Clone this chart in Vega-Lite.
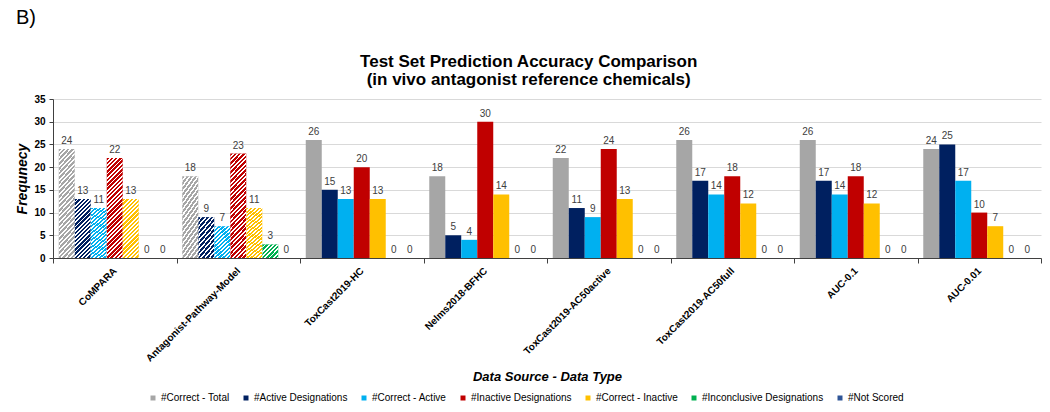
{
"$schema": "https://vega.github.io/schema/vega-lite/v6.json",
"background": "white",
"padding": {"left": 15, "top": 8, "right": 0, "bottom": 0},
"title": {"text": "B)", "anchor": "start", "frame": "bounds", "fontSize": 20, "fontWeight": "normal", "font": "Liberation Sans", "color": "#000000", "offset": 25},
"datasets": {"d": [
{"Source":"CoMPARA","Type":"#Correct - Total","Count":24},
{"Source":"CoMPARA","Type":"#Active Designations","Count":13},
{"Source":"CoMPARA","Type":"#Correct - Active","Count":11},
{"Source":"CoMPARA","Type":"#Inactive Designations","Count":22},
{"Source":"CoMPARA","Type":"#Correct - Inactive","Count":13},
{"Source":"CoMPARA","Type":"#Inconclusive Designations","Count":0},
{"Source":"CoMPARA","Type":"#Not Scored","Count":0},
{"Source":"Antagonist-Pathway-Model","Type":"#Correct - Total","Count":18},
{"Source":"Antagonist-Pathway-Model","Type":"#Active Designations","Count":9},
{"Source":"Antagonist-Pathway-Model","Type":"#Correct - Active","Count":7},
{"Source":"Antagonist-Pathway-Model","Type":"#Inactive Designations","Count":23},
{"Source":"Antagonist-Pathway-Model","Type":"#Correct - Inactive","Count":11},
{"Source":"Antagonist-Pathway-Model","Type":"#Inconclusive Designations","Count":3},
{"Source":"Antagonist-Pathway-Model","Type":"#Not Scored","Count":0},
{"Source":"ToxCast2019-HC","Type":"#Correct - Total","Count":26},
{"Source":"ToxCast2019-HC","Type":"#Active Designations","Count":15},
{"Source":"ToxCast2019-HC","Type":"#Correct - Active","Count":13},
{"Source":"ToxCast2019-HC","Type":"#Inactive Designations","Count":20},
{"Source":"ToxCast2019-HC","Type":"#Correct - Inactive","Count":13},
{"Source":"ToxCast2019-HC","Type":"#Inconclusive Designations","Count":0},
{"Source":"ToxCast2019-HC","Type":"#Not Scored","Count":0},
{"Source":"Nelms2018-BFHC","Type":"#Correct - Total","Count":18},
{"Source":"Nelms2018-BFHC","Type":"#Active Designations","Count":5},
{"Source":"Nelms2018-BFHC","Type":"#Correct - Active","Count":4},
{"Source":"Nelms2018-BFHC","Type":"#Inactive Designations","Count":30},
{"Source":"Nelms2018-BFHC","Type":"#Correct - Inactive","Count":14},
{"Source":"Nelms2018-BFHC","Type":"#Inconclusive Designations","Count":0},
{"Source":"Nelms2018-BFHC","Type":"#Not Scored","Count":0},
{"Source":"ToxCast2019-AC50active","Type":"#Correct - Total","Count":22},
{"Source":"ToxCast2019-AC50active","Type":"#Active Designations","Count":11},
{"Source":"ToxCast2019-AC50active","Type":"#Correct - Active","Count":9},
{"Source":"ToxCast2019-AC50active","Type":"#Inactive Designations","Count":24},
{"Source":"ToxCast2019-AC50active","Type":"#Correct - Inactive","Count":13},
{"Source":"ToxCast2019-AC50active","Type":"#Inconclusive Designations","Count":0},
{"Source":"ToxCast2019-AC50active","Type":"#Not Scored","Count":0},
{"Source":"ToxCast2019-AC50full","Type":"#Correct - Total","Count":26},
{"Source":"ToxCast2019-AC50full","Type":"#Active Designations","Count":17},
{"Source":"ToxCast2019-AC50full","Type":"#Correct - Active","Count":14},
{"Source":"ToxCast2019-AC50full","Type":"#Inactive Designations","Count":18},
{"Source":"ToxCast2019-AC50full","Type":"#Correct - Inactive","Count":12},
{"Source":"ToxCast2019-AC50full","Type":"#Inconclusive Designations","Count":0},
{"Source":"ToxCast2019-AC50full","Type":"#Not Scored","Count":0},
{"Source":"AUC-0.1","Type":"#Correct - Total","Count":26},
{"Source":"AUC-0.1","Type":"#Active Designations","Count":17},
{"Source":"AUC-0.1","Type":"#Correct - Active","Count":14},
{"Source":"AUC-0.1","Type":"#Inactive Designations","Count":18},
{"Source":"AUC-0.1","Type":"#Correct - Inactive","Count":12},
{"Source":"AUC-0.1","Type":"#Inconclusive Designations","Count":0},
{"Source":"AUC-0.1","Type":"#Not Scored","Count":0},
{"Source":"AUC-0.01","Type":"#Correct - Total","Count":24},
{"Source":"AUC-0.01","Type":"#Active Designations","Count":25},
{"Source":"AUC-0.01","Type":"#Correct - Active","Count":17},
{"Source":"AUC-0.01","Type":"#Inactive Designations","Count":10},
{"Source":"AUC-0.01","Type":"#Correct - Inactive","Count":7},
{"Source":"AUC-0.01","Type":"#Inconclusive Designations","Count":0},
{"Source":"AUC-0.01","Type":"#Not Scored","Count":0}
]},
"vconcat": [{
"width": 988,
"height": 159,
"data": {"name": "d"},
"title": {"text": ["Test Set Prediction Accuracy Comparison", "(in vivo antagonist reference chemicals)"], "fontSize": 17, "font": "Liberation Sans", "fontWeight": "bold", "anchor": "middle", "frame": "bounds", "offset": 5, "lineHeight": 18, "color": "#000000"},
"encoding": {
"x": {"field": "Source", "type": "nominal", "title": "Data Source - Data Type",
"sort": ["CoMPARA","Antagonist-Pathway-Model","ToxCast2019-HC","Nelms2018-BFHC","ToxCast2019-AC50active","ToxCast2019-AC50full","AUC-0.1","AUC-0.01"],
"scale": {"paddingInner": 0, "paddingOuter": 0},
"axis": {"labelAngle": -45, "labelAlign": "right", "labelBaseline": "middle", "labelFontSize": 10, "labelFontWeight": "bold", "labelColor": "#000000", "labelPadding": 6, "labelLimit": 300, "tickBand": "extent", "tickSize": 5, "domainColor": "#404040", "tickColor": "#404040", "titleFontSize": 13, "titleFontStyle": "italic", "titleFontWeight": "bold", "titleColor": "#000000", "titlePadding": 7, "grid": false}},
"xOffset": {"field": "Type", "type": "nominal",
"sort": ["#Correct - Total","#Active Designations","#Correct - Active","#Inactive Designations","#Correct - Inactive","#Inconclusive Designations","#Not Scored"],
"scale": {"paddingInner": 0, "paddingOuter": 0.36}},
"y": {"field": "Count", "type": "quantitative", "title": "Frequnecy",
"scale": {"domain": [0, 35], "nice": false},
"axis": {"values": [0,5,10,15,20,25,30,35], "labelFontSize": 10, "labelFontWeight": "bold", "labelColor": "#000000", "labelPadding": 4, "tickSize": 4, "domainColor": "#404040", "tickColor": "#404040", "gridColor": "#d9d9d9", "titleFontSize": 14, "titleFontStyle": "italic", "titleFontWeight": "bold", "titleColor": "#000000", "titlePadding": 4}}
},
"layer": [
{"mark": {"type": "bar"},
"encoding": {"color": {"field": "Type", "type": "nominal",
"scale": {"domain": ["#Correct - Total","#Active Designations","#Correct - Active","#Inactive Designations","#Correct - Inactive","#Inconclusive Designations","#Not Scored"],
"range": ["#a6a6a6","#002060","#00b0f0","#c00000","#ffc000","#00b050","#2f5597"]},
"legend": {"orient": "none", "legendX": 95, "legendY": 294, "direction": "horizontal", "title": null, "symbolType": "square", "symbolSize": 25, "symbolStrokeWidth": 0, "labelFontSize": 10, "labelColor": "#000000", "columnPadding": 11, "labelOffset": 3}}}},
{"transform": [{"filter": "(datum.Source == 'CoMPARA' || datum.Source == 'Antagonist-Pathway-Model') && datum.Count > 0"}],
"mark": {"type": "bar"},
"encoding": {"fill": {"condition": [
{"test": "datum.Count >= 20", "value": {"gradient": "linear", "x1": 0, "y1": 0, "x2": 0.181, "y2": 1.131, "stops": [
{"offset":0,"color":"rgba(255,255,255,0)"},
{"offset":0.0215,"color":"rgba(255,255,255,0)"},{"offset":0.0215,"color":"#ffffff"},{"offset":0.0370,"color":"#ffffff"},{"offset":0.0370,"color":"rgba(255,255,255,0)"},
{"offset":0.0585,"color":"rgba(255,255,255,0)"},{"offset":0.0585,"color":"#ffffff"},{"offset":0.0741,"color":"#ffffff"},{"offset":0.0741,"color":"rgba(255,255,255,0)"},
{"offset":0.0956,"color":"rgba(255,255,255,0)"},{"offset":0.0956,"color":"#ffffff"},{"offset":0.1111,"color":"#ffffff"},{"offset":0.1111,"color":"rgba(255,255,255,0)"},
{"offset":0.1326,"color":"rgba(255,255,255,0)"},{"offset":0.1326,"color":"#ffffff"},{"offset":0.1481,"color":"#ffffff"},{"offset":0.1481,"color":"rgba(255,255,255,0)"},
{"offset":0.1696,"color":"rgba(255,255,255,0)"},{"offset":0.1696,"color":"#ffffff"},{"offset":0.1852,"color":"#ffffff"},{"offset":0.1852,"color":"rgba(255,255,255,0)"},
{"offset":0.2067,"color":"rgba(255,255,255,0)"},{"offset":0.2067,"color":"#ffffff"},{"offset":0.2222,"color":"#ffffff"},{"offset":0.2222,"color":"rgba(255,255,255,0)"},
{"offset":0.2437,"color":"rgba(255,255,255,0)"},{"offset":0.2437,"color":"#ffffff"},{"offset":0.2593,"color":"#ffffff"},{"offset":0.2593,"color":"rgba(255,255,255,0)"},
{"offset":0.2808,"color":"rgba(255,255,255,0)"},{"offset":0.2808,"color":"#ffffff"},{"offset":0.2963,"color":"#ffffff"},{"offset":0.2963,"color":"rgba(255,255,255,0)"},
{"offset":0.3178,"color":"rgba(255,255,255,0)"},{"offset":0.3178,"color":"#ffffff"},{"offset":0.3333,"color":"#ffffff"},{"offset":0.3333,"color":"rgba(255,255,255,0)"},
{"offset":0.3548,"color":"rgba(255,255,255,0)"},{"offset":0.3548,"color":"#ffffff"},{"offset":0.3704,"color":"#ffffff"},{"offset":0.3704,"color":"rgba(255,255,255,0)"},
{"offset":0.3919,"color":"rgba(255,255,255,0)"},{"offset":0.3919,"color":"#ffffff"},{"offset":0.4074,"color":"#ffffff"},{"offset":0.4074,"color":"rgba(255,255,255,0)"},
{"offset":0.4289,"color":"rgba(255,255,255,0)"},{"offset":0.4289,"color":"#ffffff"},{"offset":0.4444,"color":"#ffffff"},{"offset":0.4444,"color":"rgba(255,255,255,0)"},
{"offset":0.4659,"color":"rgba(255,255,255,0)"},{"offset":0.4659,"color":"#ffffff"},{"offset":0.4815,"color":"#ffffff"},{"offset":0.4815,"color":"rgba(255,255,255,0)"},
{"offset":0.5030,"color":"rgba(255,255,255,0)"},{"offset":0.5030,"color":"#ffffff"},{"offset":0.5185,"color":"#ffffff"},{"offset":0.5185,"color":"rgba(255,255,255,0)"},
{"offset":0.5400,"color":"rgba(255,255,255,0)"},{"offset":0.5400,"color":"#ffffff"},{"offset":0.5556,"color":"#ffffff"},{"offset":0.5556,"color":"rgba(255,255,255,0)"},
{"offset":0.5771,"color":"rgba(255,255,255,0)"},{"offset":0.5771,"color":"#ffffff"},{"offset":0.5926,"color":"#ffffff"},{"offset":0.5926,"color":"rgba(255,255,255,0)"},
{"offset":0.6141,"color":"rgba(255,255,255,0)"},{"offset":0.6141,"color":"#ffffff"},{"offset":0.6296,"color":"#ffffff"},{"offset":0.6296,"color":"rgba(255,255,255,0)"},
{"offset":0.6511,"color":"rgba(255,255,255,0)"},{"offset":0.6511,"color":"#ffffff"},{"offset":0.6667,"color":"#ffffff"},{"offset":0.6667,"color":"rgba(255,255,255,0)"},
{"offset":0.6882,"color":"rgba(255,255,255,0)"},{"offset":0.6882,"color":"#ffffff"},{"offset":0.7037,"color":"#ffffff"},{"offset":0.7037,"color":"rgba(255,255,255,0)"},
{"offset":0.7252,"color":"rgba(255,255,255,0)"},{"offset":0.7252,"color":"#ffffff"},{"offset":0.7407,"color":"#ffffff"},{"offset":0.7407,"color":"rgba(255,255,255,0)"},
{"offset":0.7622,"color":"rgba(255,255,255,0)"},{"offset":0.7622,"color":"#ffffff"},{"offset":0.7778,"color":"#ffffff"},{"offset":0.7778,"color":"rgba(255,255,255,0)"},
{"offset":0.7993,"color":"rgba(255,255,255,0)"},{"offset":0.7993,"color":"#ffffff"},{"offset":0.8148,"color":"#ffffff"},{"offset":0.8148,"color":"rgba(255,255,255,0)"},
{"offset":0.8363,"color":"rgba(255,255,255,0)"},{"offset":0.8363,"color":"#ffffff"},{"offset":0.8519,"color":"#ffffff"},{"offset":0.8519,"color":"rgba(255,255,255,0)"},
{"offset":0.8734,"color":"rgba(255,255,255,0)"},{"offset":0.8734,"color":"#ffffff"},{"offset":0.8889,"color":"#ffffff"},{"offset":0.8889,"color":"rgba(255,255,255,0)"},
{"offset":0.9104,"color":"rgba(255,255,255,0)"},{"offset":0.9104,"color":"#ffffff"},{"offset":0.9259,"color":"#ffffff"},{"offset":0.9259,"color":"rgba(255,255,255,0)"},
{"offset":0.9474,"color":"rgba(255,255,255,0)"},{"offset":0.9474,"color":"#ffffff"},{"offset":0.9630,"color":"#ffffff"},{"offset":0.9630,"color":"rgba(255,255,255,0)"},
{"offset":0.9845,"color":"rgba(255,255,255,0)"},{"offset":0.9845,"color":"#ffffff"},{"offset":1,"color":"#ffffff"}
]}},
{"test": "datum.Count >= 10", "value": {"gradient": "linear", "x1": 0, "y1": 0, "x2": 0.32, "y2": 1.184, "stops": [
{"offset":0,"color":"rgba(255,255,255,0)"},
{"offset":0.0322,"color":"rgba(255,255,255,0)"},{"offset":0.0322,"color":"#ffffff"},{"offset":0.0556,"color":"#ffffff"},{"offset":0.0556,"color":"rgba(255,255,255,0)"},
{"offset":0.0878,"color":"rgba(255,255,255,0)"},{"offset":0.0878,"color":"#ffffff"},{"offset":0.1111,"color":"#ffffff"},{"offset":0.1111,"color":"rgba(255,255,255,0)"},
{"offset":0.1433,"color":"rgba(255,255,255,0)"},{"offset":0.1433,"color":"#ffffff"},{"offset":0.1667,"color":"#ffffff"},{"offset":0.1667,"color":"rgba(255,255,255,0)"},
{"offset":0.1989,"color":"rgba(255,255,255,0)"},{"offset":0.1989,"color":"#ffffff"},{"offset":0.2222,"color":"#ffffff"},{"offset":0.2222,"color":"rgba(255,255,255,0)"},
{"offset":0.2544,"color":"rgba(255,255,255,0)"},{"offset":0.2544,"color":"#ffffff"},{"offset":0.2778,"color":"#ffffff"},{"offset":0.2778,"color":"rgba(255,255,255,0)"},
{"offset":0.3100,"color":"rgba(255,255,255,0)"},{"offset":0.3100,"color":"#ffffff"},{"offset":0.3333,"color":"#ffffff"},{"offset":0.3333,"color":"rgba(255,255,255,0)"},
{"offset":0.3656,"color":"rgba(255,255,255,0)"},{"offset":0.3656,"color":"#ffffff"},{"offset":0.3889,"color":"#ffffff"},{"offset":0.3889,"color":"rgba(255,255,255,0)"},
{"offset":0.4211,"color":"rgba(255,255,255,0)"},{"offset":0.4211,"color":"#ffffff"},{"offset":0.4444,"color":"#ffffff"},{"offset":0.4444,"color":"rgba(255,255,255,0)"},
{"offset":0.4767,"color":"rgba(255,255,255,0)"},{"offset":0.4767,"color":"#ffffff"},{"offset":0.5,"color":"#ffffff"},{"offset":0.5,"color":"rgba(255,255,255,0)"},
{"offset":0.5322,"color":"rgba(255,255,255,0)"},{"offset":0.5322,"color":"#ffffff"},{"offset":0.5556,"color":"#ffffff"},{"offset":0.5556,"color":"rgba(255,255,255,0)"},
{"offset":0.5878,"color":"rgba(255,255,255,0)"},{"offset":0.5878,"color":"#ffffff"},{"offset":0.6111,"color":"#ffffff"},{"offset":0.6111,"color":"rgba(255,255,255,0)"},
{"offset":0.6433,"color":"rgba(255,255,255,0)"},{"offset":0.6433,"color":"#ffffff"},{"offset":0.6667,"color":"#ffffff"},{"offset":0.6667,"color":"rgba(255,255,255,0)"},
{"offset":0.6989,"color":"rgba(255,255,255,0)"},{"offset":0.6989,"color":"#ffffff"},{"offset":0.7222,"color":"#ffffff"},{"offset":0.7222,"color":"rgba(255,255,255,0)"},
{"offset":0.7544,"color":"rgba(255,255,255,0)"},{"offset":0.7544,"color":"#ffffff"},{"offset":0.7778,"color":"#ffffff"},{"offset":0.7778,"color":"rgba(255,255,255,0)"},
{"offset":0.8100,"color":"rgba(255,255,255,0)"},{"offset":0.8100,"color":"#ffffff"},{"offset":0.8333,"color":"#ffffff"},{"offset":0.8333,"color":"rgba(255,255,255,0)"},
{"offset":0.8656,"color":"rgba(255,255,255,0)"},{"offset":0.8656,"color":"#ffffff"},{"offset":0.8889,"color":"#ffffff"},{"offset":0.8889,"color":"rgba(255,255,255,0)"},
{"offset":0.9211,"color":"rgba(255,255,255,0)"},{"offset":0.9211,"color":"#ffffff"},{"offset":0.9444,"color":"#ffffff"},{"offset":0.9444,"color":"rgba(255,255,255,0)"},
{"offset":0.9767,"color":"rgba(255,255,255,0)"},{"offset":0.9767,"color":"#ffffff"},{"offset":1,"color":"#ffffff"}
]}},
{"test": "datum.Count >= 5", "value": {"gradient": "linear", "x1": 0, "y1": 0, "x2": 0.555, "y2": 1.207, "stops": [
{"offset":0,"color":"rgba(255,255,255,0)"},
{"offset":0.0483,"color":"rgba(255,255,255,0)"},{"offset":0.0483,"color":"#ffffff"},{"offset":0.0833,"color":"#ffffff"},{"offset":0.0833,"color":"rgba(255,255,255,0)"},
{"offset":0.1317,"color":"rgba(255,255,255,0)"},{"offset":0.1317,"color":"#ffffff"},{"offset":0.1667,"color":"#ffffff"},{"offset":0.1667,"color":"rgba(255,255,255,0)"},
{"offset":0.2150,"color":"rgba(255,255,255,0)"},{"offset":0.2150,"color":"#ffffff"},{"offset":0.25,"color":"#ffffff"},{"offset":0.25,"color":"rgba(255,255,255,0)"},
{"offset":0.2983,"color":"rgba(255,255,255,0)"},{"offset":0.2983,"color":"#ffffff"},{"offset":0.3333,"color":"#ffffff"},{"offset":0.3333,"color":"rgba(255,255,255,0)"},
{"offset":0.3817,"color":"rgba(255,255,255,0)"},{"offset":0.3817,"color":"#ffffff"},{"offset":0.4167,"color":"#ffffff"},{"offset":0.4167,"color":"rgba(255,255,255,0)"},
{"offset":0.4650,"color":"rgba(255,255,255,0)"},{"offset":0.4650,"color":"#ffffff"},{"offset":0.5,"color":"#ffffff"},{"offset":0.5,"color":"rgba(255,255,255,0)"},
{"offset":0.5483,"color":"rgba(255,255,255,0)"},{"offset":0.5483,"color":"#ffffff"},{"offset":0.5833,"color":"#ffffff"},{"offset":0.5833,"color":"rgba(255,255,255,0)"},
{"offset":0.6317,"color":"rgba(255,255,255,0)"},{"offset":0.6317,"color":"#ffffff"},{"offset":0.6667,"color":"#ffffff"},{"offset":0.6667,"color":"rgba(255,255,255,0)"},
{"offset":0.7150,"color":"rgba(255,255,255,0)"},{"offset":0.7150,"color":"#ffffff"},{"offset":0.75,"color":"#ffffff"},{"offset":0.75,"color":"rgba(255,255,255,0)"},
{"offset":0.7983,"color":"rgba(255,255,255,0)"},{"offset":0.7983,"color":"#ffffff"},{"offset":0.8333,"color":"#ffffff"},{"offset":0.8333,"color":"rgba(255,255,255,0)"},
{"offset":0.8817,"color":"rgba(255,255,255,0)"},{"offset":0.8817,"color":"#ffffff"},{"offset":0.9167,"color":"#ffffff"},{"offset":0.9167,"color":"rgba(255,255,255,0)"},
{"offset":0.9650,"color":"rgba(255,255,255,0)"},{"offset":0.9650,"color":"#ffffff"},{"offset":1,"color":"#ffffff"}
]}}
],
"value": {"gradient": "linear", "x1": 0, "y1": 0, "x2": 1.08, "y2": 0.906, "stops": [
{"offset":0,"color":"rgba(255,255,255,0)"},
{"offset":0.0829,"color":"rgba(255,255,255,0)"},{"offset":0.0829,"color":"#ffffff"},{"offset":0.1429,"color":"#ffffff"},{"offset":0.1429,"color":"rgba(255,255,255,0)"},
{"offset":0.2257,"color":"rgba(255,255,255,0)"},{"offset":0.2257,"color":"#ffffff"},{"offset":0.2857,"color":"#ffffff"},{"offset":0.2857,"color":"rgba(255,255,255,0)"},
{"offset":0.3686,"color":"rgba(255,255,255,0)"},{"offset":0.3686,"color":"#ffffff"},{"offset":0.4286,"color":"#ffffff"},{"offset":0.4286,"color":"rgba(255,255,255,0)"},
{"offset":0.5114,"color":"rgba(255,255,255,0)"},{"offset":0.5114,"color":"#ffffff"},{"offset":0.5714,"color":"#ffffff"},{"offset":0.5714,"color":"rgba(255,255,255,0)"},
{"offset":0.6543,"color":"rgba(255,255,255,0)"},{"offset":0.6543,"color":"#ffffff"},{"offset":0.7143,"color":"#ffffff"},{"offset":0.7143,"color":"rgba(255,255,255,0)"},
{"offset":0.7971,"color":"rgba(255,255,255,0)"},{"offset":0.7971,"color":"#ffffff"},{"offset":0.8571,"color":"#ffffff"},{"offset":0.8571,"color":"rgba(255,255,255,0)"},
{"offset":0.9400,"color":"rgba(255,255,255,0)"},{"offset":0.9400,"color":"#ffffff"},{"offset":1,"color":"#ffffff"}
]}}}},
{"mark": {"type": "text", "dy": -8, "fontSize": 10, "color": "#404040", "font": "Liberation Sans"},
"encoding": {"text": {"field": "Count", "type": "quantitative"}}}
]
}],
"config": {
"font": "Liberation Sans",
"view": {"stroke": null},
"concat": {"spacing": 0}
}
}
